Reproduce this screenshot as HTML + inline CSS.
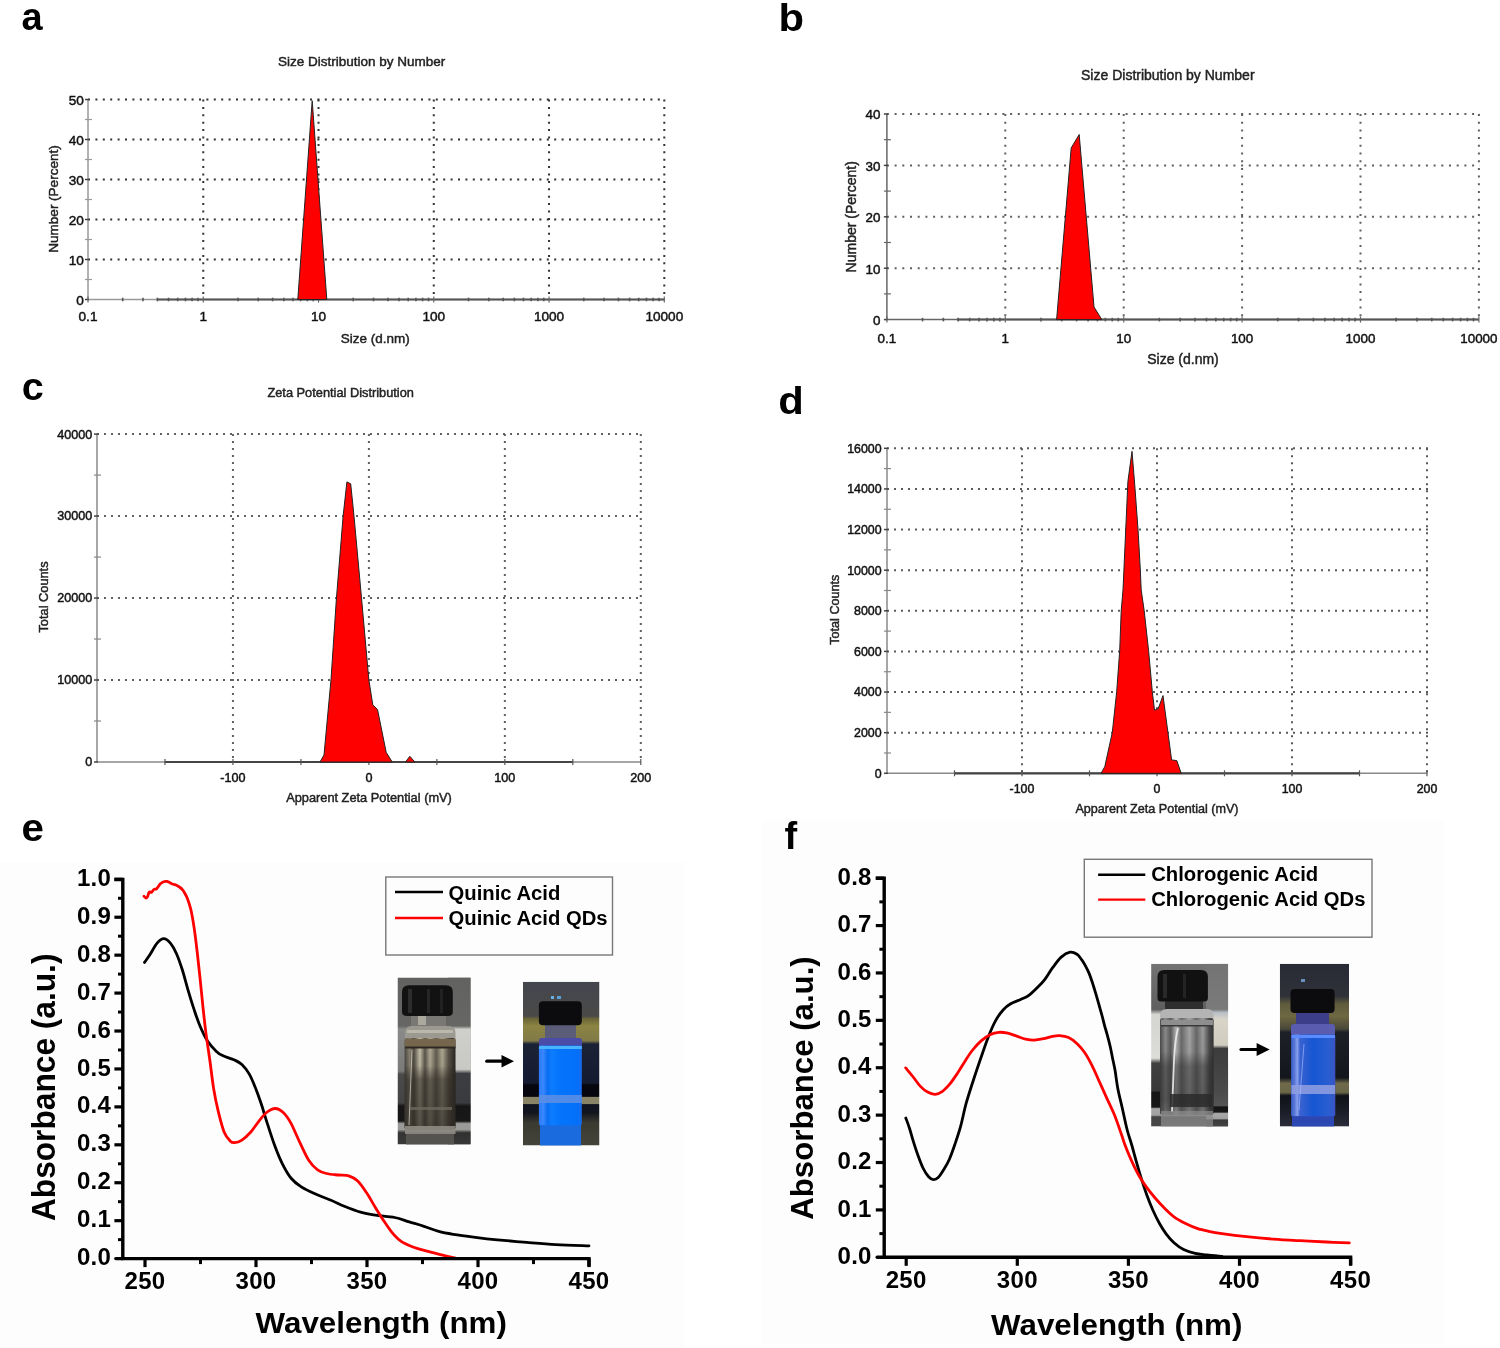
<!DOCTYPE html>
<html><head><meta charset="utf-8"><title>Figure</title>
<style>
html,body{margin:0;padding:0;background:#fff;}
body{width:1500px;height:1348px;overflow:hidden;}
svg{display:block;will-change:transform;}
text{font-family:"Liberation Sans", sans-serif;}
</style></head>
<body>
<svg width="1500" height="1348" viewBox="0 0 1500 1348" font-family='"Liberation Sans", sans-serif'>
<rect x="0" y="0" width="1500" height="1348" fill="#ffffff"/>
<rect x="0" y="862" width="684" height="486" fill="#fdfdfd"/>
<rect x="762" y="821" width="682" height="523" fill="#fdfdfd"/>
<text transform="translate(21.6,30.2) scale(1.0,1)" x="0" y="0" font-size="38" font-weight="bold" fill="#000">a</text>
<text transform="translate(778.5,30.6) scale(1.1,1)" x="0" y="0" font-size="38" font-weight="bold" fill="#000">b</text>
<text transform="translate(21.8,399.6) scale(1.04,1)" x="0" y="0" font-size="38" font-weight="bold" fill="#000">c</text>
<text transform="translate(778.2,414.2) scale(1.1,1)" x="0" y="0" font-size="38" font-weight="bold" fill="#000">d</text>
<text transform="translate(21.4,841.2) scale(1.06,1)" x="0" y="0" font-size="38" font-weight="bold" fill="#000">e</text>
<text transform="translate(784.4,848.7) scale(1.0,1)" x="0" y="0" font-size="38" font-weight="bold" fill="#000">f</text>
<line x1="88.00" y1="259.50" x2="665.30" y2="259.50" stroke="#333" stroke-width="2.0" stroke-dasharray="2.0 5.40"/>
<line x1="88.00" y1="219.50" x2="665.30" y2="219.50" stroke="#333" stroke-width="2.0" stroke-dasharray="2.0 5.40"/>
<line x1="88.00" y1="179.50" x2="665.30" y2="179.50" stroke="#333" stroke-width="2.0" stroke-dasharray="2.0 5.40"/>
<line x1="88.00" y1="139.50" x2="665.30" y2="139.50" stroke="#333" stroke-width="2.0" stroke-dasharray="2.0 5.40"/>
<line x1="88.00" y1="99.50" x2="665.30" y2="99.50" stroke="#333" stroke-width="2.0" stroke-dasharray="2.0 5.40"/>
<line x1="203.26" y1="99.50" x2="203.26" y2="299.50" stroke="#333" stroke-width="2.0" stroke-dasharray="2.0 5.40"/>
<line x1="318.52" y1="99.50" x2="318.52" y2="299.50" stroke="#333" stroke-width="2.0" stroke-dasharray="2.0 5.40"/>
<line x1="433.78" y1="99.50" x2="433.78" y2="299.50" stroke="#333" stroke-width="2.0" stroke-dasharray="2.0 5.40"/>
<line x1="549.04" y1="99.50" x2="549.04" y2="299.50" stroke="#333" stroke-width="2.0" stroke-dasharray="2.0 5.40"/>
<line x1="664.30" y1="99.50" x2="664.30" y2="299.50" stroke="#333" stroke-width="2.0" stroke-dasharray="2.0 5.40"/>
<line x1="88.00" y1="99.50" x2="88.00" y2="299.50" stroke="#999" stroke-width="1.5" />
<line x1="88.00" y1="299.50" x2="664.30" y2="299.50" stroke="#999" stroke-width="1.5" />
<line x1="85.00" y1="299.50" x2="89.00" y2="299.50" stroke="#444" stroke-width="1.5" />
<line x1="85.00" y1="259.50" x2="89.00" y2="259.50" stroke="#444" stroke-width="1.5" />
<line x1="85.00" y1="219.50" x2="89.00" y2="219.50" stroke="#444" stroke-width="1.5" />
<line x1="85.00" y1="179.50" x2="89.00" y2="179.50" stroke="#444" stroke-width="1.5" />
<line x1="85.00" y1="139.50" x2="89.00" y2="139.50" stroke="#444" stroke-width="1.5" />
<line x1="85.00" y1="99.50" x2="89.00" y2="99.50" stroke="#444" stroke-width="1.5" />
<line x1="85.00" y1="279.50" x2="92.00" y2="279.50" stroke="#999" stroke-width="1.2" />
<line x1="85.00" y1="239.50" x2="92.00" y2="239.50" stroke="#999" stroke-width="1.2" />
<line x1="85.00" y1="199.50" x2="92.00" y2="199.50" stroke="#999" stroke-width="1.2" />
<line x1="85.00" y1="159.50" x2="92.00" y2="159.50" stroke="#999" stroke-width="1.2" />
<line x1="85.00" y1="119.50" x2="92.00" y2="119.50" stroke="#999" stroke-width="1.2" />
<line x1="157.50" y1="299.50" x2="664.30" y2="299.50" stroke="#555" stroke-width="2" />
<line x1="122.70" y1="297.70" x2="122.70" y2="301.30" stroke="#555" stroke-width="1.6" />
<line x1="142.99" y1="297.70" x2="142.99" y2="301.30" stroke="#555" stroke-width="1.6" />
<line x1="157.39" y1="297.70" x2="157.39" y2="301.30" stroke="#555" stroke-width="1.6" />
<line x1="168.56" y1="297.70" x2="168.56" y2="301.30" stroke="#555" stroke-width="1.6" />
<line x1="177.69" y1="297.70" x2="177.69" y2="301.30" stroke="#555" stroke-width="1.6" />
<line x1="185.41" y1="297.70" x2="185.41" y2="301.30" stroke="#555" stroke-width="1.6" />
<line x1="192.09" y1="297.70" x2="192.09" y2="301.30" stroke="#555" stroke-width="1.6" />
<line x1="197.99" y1="297.70" x2="197.99" y2="301.30" stroke="#555" stroke-width="1.6" />
<line x1="237.96" y1="297.70" x2="237.96" y2="301.30" stroke="#555" stroke-width="1.6" />
<line x1="258.25" y1="297.70" x2="258.25" y2="301.30" stroke="#555" stroke-width="1.6" />
<line x1="272.65" y1="297.70" x2="272.65" y2="301.30" stroke="#555" stroke-width="1.6" />
<line x1="283.82" y1="297.70" x2="283.82" y2="301.30" stroke="#555" stroke-width="1.6" />
<line x1="292.95" y1="297.70" x2="292.95" y2="301.30" stroke="#555" stroke-width="1.6" />
<line x1="300.67" y1="297.70" x2="300.67" y2="301.30" stroke="#555" stroke-width="1.6" />
<line x1="307.35" y1="297.70" x2="307.35" y2="301.30" stroke="#555" stroke-width="1.6" />
<line x1="313.25" y1="297.70" x2="313.25" y2="301.30" stroke="#555" stroke-width="1.6" />
<line x1="353.22" y1="297.70" x2="353.22" y2="301.30" stroke="#555" stroke-width="1.6" />
<line x1="373.51" y1="297.70" x2="373.51" y2="301.30" stroke="#555" stroke-width="1.6" />
<line x1="387.91" y1="297.70" x2="387.91" y2="301.30" stroke="#555" stroke-width="1.6" />
<line x1="399.08" y1="297.70" x2="399.08" y2="301.30" stroke="#555" stroke-width="1.6" />
<line x1="408.21" y1="297.70" x2="408.21" y2="301.30" stroke="#555" stroke-width="1.6" />
<line x1="415.93" y1="297.70" x2="415.93" y2="301.30" stroke="#555" stroke-width="1.6" />
<line x1="422.61" y1="297.70" x2="422.61" y2="301.30" stroke="#555" stroke-width="1.6" />
<line x1="428.51" y1="297.70" x2="428.51" y2="301.30" stroke="#555" stroke-width="1.6" />
<line x1="468.48" y1="297.70" x2="468.48" y2="301.30" stroke="#555" stroke-width="1.6" />
<line x1="488.77" y1="297.70" x2="488.77" y2="301.30" stroke="#555" stroke-width="1.6" />
<line x1="503.17" y1="297.70" x2="503.17" y2="301.30" stroke="#555" stroke-width="1.6" />
<line x1="514.34" y1="297.70" x2="514.34" y2="301.30" stroke="#555" stroke-width="1.6" />
<line x1="523.47" y1="297.70" x2="523.47" y2="301.30" stroke="#555" stroke-width="1.6" />
<line x1="531.19" y1="297.70" x2="531.19" y2="301.30" stroke="#555" stroke-width="1.6" />
<line x1="537.87" y1="297.70" x2="537.87" y2="301.30" stroke="#555" stroke-width="1.6" />
<line x1="543.77" y1="297.70" x2="543.77" y2="301.30" stroke="#555" stroke-width="1.6" />
<line x1="583.74" y1="297.70" x2="583.74" y2="301.30" stroke="#555" stroke-width="1.6" />
<line x1="604.03" y1="297.70" x2="604.03" y2="301.30" stroke="#555" stroke-width="1.6" />
<line x1="618.43" y1="297.70" x2="618.43" y2="301.30" stroke="#555" stroke-width="1.6" />
<line x1="629.60" y1="297.70" x2="629.60" y2="301.30" stroke="#555" stroke-width="1.6" />
<line x1="638.73" y1="297.70" x2="638.73" y2="301.30" stroke="#555" stroke-width="1.6" />
<line x1="646.45" y1="297.70" x2="646.45" y2="301.30" stroke="#555" stroke-width="1.6" />
<line x1="653.13" y1="297.70" x2="653.13" y2="301.30" stroke="#555" stroke-width="1.6" />
<line x1="659.03" y1="297.70" x2="659.03" y2="301.30" stroke="#555" stroke-width="1.6" />
<line x1="88.00" y1="296.50" x2="88.00" y2="302.50" stroke="#666" stroke-width="1.2" />
<line x1="203.26" y1="296.50" x2="203.26" y2="302.50" stroke="#666" stroke-width="1.2" />
<line x1="318.52" y1="296.50" x2="318.52" y2="302.50" stroke="#666" stroke-width="1.2" />
<line x1="433.78" y1="296.50" x2="433.78" y2="302.50" stroke="#666" stroke-width="1.2" />
<line x1="549.04" y1="296.50" x2="549.04" y2="302.50" stroke="#666" stroke-width="1.2" />
<line x1="664.30" y1="296.50" x2="664.30" y2="302.50" stroke="#666" stroke-width="1.2" />
<polygon points="297.80,299.50 312.20,100.70 326.80,299.50" fill="#ff0000" stroke="#222" stroke-width="1" stroke-linejoin="round" />
<text x="83.80" y="304.94" font-size="13.6" text-anchor="end" font-weight="normal" fill="#111"  stroke="#111" stroke-width="0.45">0</text>
<text x="83.80" y="264.94" font-size="13.6" text-anchor="end" font-weight="normal" fill="#111"  stroke="#111" stroke-width="0.45">10</text>
<text x="83.80" y="224.94" font-size="13.6" text-anchor="end" font-weight="normal" fill="#111"  stroke="#111" stroke-width="0.45">20</text>
<text x="83.80" y="184.94" font-size="13.6" text-anchor="end" font-weight="normal" fill="#111"  stroke="#111" stroke-width="0.45">30</text>
<text x="83.80" y="144.94" font-size="13.6" text-anchor="end" font-weight="normal" fill="#111"  stroke="#111" stroke-width="0.45">40</text>
<text x="83.80" y="104.94" font-size="13.6" text-anchor="end" font-weight="normal" fill="#111"  stroke="#111" stroke-width="0.45">50</text>
<text x="88.00" y="321.40" font-size="13.6" text-anchor="middle" font-weight="normal" fill="#111"  stroke="#111" stroke-width="0.45">0.1</text>
<text x="203.26" y="321.40" font-size="13.6" text-anchor="middle" font-weight="normal" fill="#111"  stroke="#111" stroke-width="0.45">1</text>
<text x="318.52" y="321.40" font-size="13.6" text-anchor="middle" font-weight="normal" fill="#111"  stroke="#111" stroke-width="0.45">10</text>
<text x="433.78" y="321.40" font-size="13.6" text-anchor="middle" font-weight="normal" fill="#111"  stroke="#111" stroke-width="0.45">100</text>
<text x="549.04" y="321.40" font-size="13.6" text-anchor="middle" font-weight="normal" fill="#111"  stroke="#111" stroke-width="0.45">1000</text>
<text x="664.30" y="321.40" font-size="13.6" text-anchor="middle" font-weight="normal" fill="#111"  stroke="#111" stroke-width="0.45">10000</text>
<text x="361.70" y="66.20" font-size="13.5" text-anchor="middle" font-weight="normal" fill="#222"  stroke="#222" stroke-width="0.45">Size Distribution by Number</text>
<text x="375.30" y="342.50" font-size="13.5" text-anchor="middle" font-weight="normal" fill="#222"  stroke="#222" stroke-width="0.45">Size (d.nm)</text>
<text transform="translate(58.40,199.00) rotate(-90) scale(1,1.0)" x="0" y="0" font-size="13.5" text-anchor="middle" font-weight="normal" fill="#222" stroke="#222" stroke-width="0.45">Number (Percent)</text>
<line x1="886.90" y1="268.20" x2="1479.90" y2="268.20" stroke="#606060" stroke-width="2.0" stroke-dasharray="2.0 5.70"/>
<line x1="886.90" y1="216.80" x2="1479.90" y2="216.80" stroke="#606060" stroke-width="2.0" stroke-dasharray="2.0 5.70"/>
<line x1="886.90" y1="165.40" x2="1479.90" y2="165.40" stroke="#606060" stroke-width="2.0" stroke-dasharray="2.0 5.70"/>
<line x1="886.90" y1="114.00" x2="1479.90" y2="114.00" stroke="#606060" stroke-width="2.0" stroke-dasharray="2.0 5.70"/>
<line x1="1005.30" y1="114.00" x2="1005.30" y2="319.60" stroke="#606060" stroke-width="2.0" stroke-dasharray="2.0 5.70"/>
<line x1="1123.70" y1="114.00" x2="1123.70" y2="319.60" stroke="#606060" stroke-width="2.0" stroke-dasharray="2.0 5.70"/>
<line x1="1242.10" y1="114.00" x2="1242.10" y2="319.60" stroke="#606060" stroke-width="2.0" stroke-dasharray="2.0 5.70"/>
<line x1="1360.50" y1="114.00" x2="1360.50" y2="319.60" stroke="#606060" stroke-width="2.0" stroke-dasharray="2.0 5.70"/>
<line x1="1478.90" y1="114.00" x2="1478.90" y2="319.60" stroke="#606060" stroke-width="2.0" stroke-dasharray="2.0 5.70"/>
<line x1="886.90" y1="114.00" x2="886.90" y2="319.60" stroke="#666" stroke-width="1.5" />
<line x1="886.90" y1="319.60" x2="1478.90" y2="319.60" stroke="#666" stroke-width="1.5" />
<line x1="883.90" y1="319.60" x2="887.90" y2="319.60" stroke="#444" stroke-width="1.5" />
<line x1="883.90" y1="268.20" x2="887.90" y2="268.20" stroke="#444" stroke-width="1.5" />
<line x1="883.90" y1="216.80" x2="887.90" y2="216.80" stroke="#444" stroke-width="1.5" />
<line x1="883.90" y1="165.40" x2="887.90" y2="165.40" stroke="#444" stroke-width="1.5" />
<line x1="883.90" y1="114.00" x2="887.90" y2="114.00" stroke="#444" stroke-width="1.5" />
<line x1="883.90" y1="293.90" x2="890.90" y2="293.90" stroke="#666" stroke-width="1.2" />
<line x1="883.90" y1="242.50" x2="890.90" y2="242.50" stroke="#666" stroke-width="1.2" />
<line x1="883.90" y1="191.10" x2="890.90" y2="191.10" stroke="#666" stroke-width="1.2" />
<line x1="883.90" y1="139.70" x2="890.90" y2="139.70" stroke="#666" stroke-width="1.2" />
<line x1="957.00" y1="319.60" x2="1478.90" y2="319.60" stroke="#555" stroke-width="2" />
<line x1="922.54" y1="317.80" x2="922.54" y2="321.40" stroke="#555" stroke-width="1.6" />
<line x1="943.39" y1="317.80" x2="943.39" y2="321.40" stroke="#555" stroke-width="1.6" />
<line x1="958.18" y1="317.80" x2="958.18" y2="321.40" stroke="#555" stroke-width="1.6" />
<line x1="969.66" y1="317.80" x2="969.66" y2="321.40" stroke="#555" stroke-width="1.6" />
<line x1="979.03" y1="317.80" x2="979.03" y2="321.40" stroke="#555" stroke-width="1.6" />
<line x1="986.96" y1="317.80" x2="986.96" y2="321.40" stroke="#555" stroke-width="1.6" />
<line x1="993.83" y1="317.80" x2="993.83" y2="321.40" stroke="#555" stroke-width="1.6" />
<line x1="999.88" y1="317.80" x2="999.88" y2="321.40" stroke="#555" stroke-width="1.6" />
<line x1="1040.94" y1="317.80" x2="1040.94" y2="321.40" stroke="#555" stroke-width="1.6" />
<line x1="1061.79" y1="317.80" x2="1061.79" y2="321.40" stroke="#555" stroke-width="1.6" />
<line x1="1076.58" y1="317.80" x2="1076.58" y2="321.40" stroke="#555" stroke-width="1.6" />
<line x1="1088.06" y1="317.80" x2="1088.06" y2="321.40" stroke="#555" stroke-width="1.6" />
<line x1="1097.43" y1="317.80" x2="1097.43" y2="321.40" stroke="#555" stroke-width="1.6" />
<line x1="1105.36" y1="317.80" x2="1105.36" y2="321.40" stroke="#555" stroke-width="1.6" />
<line x1="1112.23" y1="317.80" x2="1112.23" y2="321.40" stroke="#555" stroke-width="1.6" />
<line x1="1118.28" y1="317.80" x2="1118.28" y2="321.40" stroke="#555" stroke-width="1.6" />
<line x1="1159.34" y1="317.80" x2="1159.34" y2="321.40" stroke="#555" stroke-width="1.6" />
<line x1="1180.19" y1="317.80" x2="1180.19" y2="321.40" stroke="#555" stroke-width="1.6" />
<line x1="1194.98" y1="317.80" x2="1194.98" y2="321.40" stroke="#555" stroke-width="1.6" />
<line x1="1206.46" y1="317.80" x2="1206.46" y2="321.40" stroke="#555" stroke-width="1.6" />
<line x1="1215.83" y1="317.80" x2="1215.83" y2="321.40" stroke="#555" stroke-width="1.6" />
<line x1="1223.76" y1="317.80" x2="1223.76" y2="321.40" stroke="#555" stroke-width="1.6" />
<line x1="1230.63" y1="317.80" x2="1230.63" y2="321.40" stroke="#555" stroke-width="1.6" />
<line x1="1236.68" y1="317.80" x2="1236.68" y2="321.40" stroke="#555" stroke-width="1.6" />
<line x1="1277.74" y1="317.80" x2="1277.74" y2="321.40" stroke="#555" stroke-width="1.6" />
<line x1="1298.59" y1="317.80" x2="1298.59" y2="321.40" stroke="#555" stroke-width="1.6" />
<line x1="1313.38" y1="317.80" x2="1313.38" y2="321.40" stroke="#555" stroke-width="1.6" />
<line x1="1324.86" y1="317.80" x2="1324.86" y2="321.40" stroke="#555" stroke-width="1.6" />
<line x1="1334.23" y1="317.80" x2="1334.23" y2="321.40" stroke="#555" stroke-width="1.6" />
<line x1="1342.16" y1="317.80" x2="1342.16" y2="321.40" stroke="#555" stroke-width="1.6" />
<line x1="1349.03" y1="317.80" x2="1349.03" y2="321.40" stroke="#555" stroke-width="1.6" />
<line x1="1355.08" y1="317.80" x2="1355.08" y2="321.40" stroke="#555" stroke-width="1.6" />
<line x1="1396.14" y1="317.80" x2="1396.14" y2="321.40" stroke="#555" stroke-width="1.6" />
<line x1="1416.99" y1="317.80" x2="1416.99" y2="321.40" stroke="#555" stroke-width="1.6" />
<line x1="1431.78" y1="317.80" x2="1431.78" y2="321.40" stroke="#555" stroke-width="1.6" />
<line x1="1443.26" y1="317.80" x2="1443.26" y2="321.40" stroke="#555" stroke-width="1.6" />
<line x1="1452.63" y1="317.80" x2="1452.63" y2="321.40" stroke="#555" stroke-width="1.6" />
<line x1="1460.56" y1="317.80" x2="1460.56" y2="321.40" stroke="#555" stroke-width="1.6" />
<line x1="1467.43" y1="317.80" x2="1467.43" y2="321.40" stroke="#555" stroke-width="1.6" />
<line x1="1473.48" y1="317.80" x2="1473.48" y2="321.40" stroke="#555" stroke-width="1.6" />
<line x1="886.90" y1="316.60" x2="886.90" y2="322.60" stroke="#666" stroke-width="1.2" />
<line x1="1005.30" y1="316.60" x2="1005.30" y2="322.60" stroke="#666" stroke-width="1.2" />
<line x1="1123.70" y1="316.60" x2="1123.70" y2="322.60" stroke="#666" stroke-width="1.2" />
<line x1="1242.10" y1="316.60" x2="1242.10" y2="322.60" stroke="#666" stroke-width="1.2" />
<line x1="1360.50" y1="316.60" x2="1360.50" y2="322.60" stroke="#666" stroke-width="1.2" />
<line x1="1478.90" y1="316.60" x2="1478.90" y2="322.60" stroke="#666" stroke-width="1.2" />
<polygon points="1056.60,319.60 1071.20,147.90 1079.20,134.50 1094.00,306.90 1101.80,319.60" fill="#ff0000" stroke="#222" stroke-width="1" stroke-linejoin="round" />
<text x="880.50" y="324.96" font-size="13.4" text-anchor="end" font-weight="normal" fill="#111"  stroke="#111" stroke-width="0.45">0</text>
<text x="880.50" y="273.56" font-size="13.4" text-anchor="end" font-weight="normal" fill="#111"  stroke="#111" stroke-width="0.45">10</text>
<text x="880.50" y="222.16" font-size="13.4" text-anchor="end" font-weight="normal" fill="#111"  stroke="#111" stroke-width="0.45">20</text>
<text x="880.50" y="170.76" font-size="13.4" text-anchor="end" font-weight="normal" fill="#111"  stroke="#111" stroke-width="0.45">30</text>
<text x="880.50" y="119.36" font-size="13.4" text-anchor="end" font-weight="normal" fill="#111"  stroke="#111" stroke-width="0.45">40</text>
<text x="886.90" y="342.50" font-size="13.4" text-anchor="middle" font-weight="normal" fill="#111"  stroke="#111" stroke-width="0.45">0.1</text>
<text x="1005.30" y="342.50" font-size="13.4" text-anchor="middle" font-weight="normal" fill="#111"  stroke="#111" stroke-width="0.45">1</text>
<text x="1123.70" y="342.50" font-size="13.4" text-anchor="middle" font-weight="normal" fill="#111"  stroke="#111" stroke-width="0.45">10</text>
<text x="1242.10" y="342.50" font-size="13.4" text-anchor="middle" font-weight="normal" fill="#111"  stroke="#111" stroke-width="0.45">100</text>
<text x="1360.50" y="342.50" font-size="13.4" text-anchor="middle" font-weight="normal" fill="#111"  stroke="#111" stroke-width="0.45">1000</text>
<text x="1478.90" y="342.50" font-size="13.4" text-anchor="middle" font-weight="normal" fill="#111"  stroke="#111" stroke-width="0.45">10000</text>
<text x="1167.80" y="79.60" font-size="14" text-anchor="middle" font-weight="normal" fill="#222"  stroke="#222" stroke-width="0.45">Size Distribution by Number</text>
<text x="1183.00" y="364.20" font-size="14" text-anchor="middle" font-weight="normal" fill="#222"  stroke="#222" stroke-width="0.45">Size (d.nm)</text>
<text transform="translate(856.30,216.80) rotate(-90) scale(1,1.0)" x="0" y="0" font-size="14" text-anchor="middle" font-weight="normal" fill="#222" stroke="#222" stroke-width="0.45">Number (Percent)</text>
<line x1="97.00" y1="680.02" x2="641.80" y2="680.02" stroke="#606060" stroke-width="2.0" stroke-dasharray="2.0 5.00"/>
<line x1="97.00" y1="598.05" x2="641.80" y2="598.05" stroke="#606060" stroke-width="2.0" stroke-dasharray="2.0 5.00"/>
<line x1="97.00" y1="516.08" x2="641.80" y2="516.08" stroke="#606060" stroke-width="2.0" stroke-dasharray="2.0 5.00"/>
<line x1="97.00" y1="434.10" x2="641.80" y2="434.10" stroke="#606060" stroke-width="2.0" stroke-dasharray="2.0 5.00"/>
<line x1="232.95" y1="434.10" x2="232.95" y2="762.00" stroke="#606060" stroke-width="2.0" stroke-dasharray="2.0 5.00"/>
<line x1="368.90" y1="434.10" x2="368.90" y2="762.00" stroke="#606060" stroke-width="2.0" stroke-dasharray="2.0 5.00"/>
<line x1="504.85" y1="434.10" x2="504.85" y2="762.00" stroke="#606060" stroke-width="2.0" stroke-dasharray="2.0 5.00"/>
<line x1="640.80" y1="434.10" x2="640.80" y2="762.00" stroke="#606060" stroke-width="2.0" stroke-dasharray="2.0 5.00"/>
<line x1="97.00" y1="434.10" x2="97.00" y2="762.00" stroke="#888" stroke-width="1.5" />
<line x1="97.00" y1="762.00" x2="640.80" y2="762.00" stroke="#888" stroke-width="1.5" />
<line x1="94.00" y1="762.00" x2="98.00" y2="762.00" stroke="#444" stroke-width="1.5" />
<line x1="94.00" y1="680.02" x2="98.00" y2="680.02" stroke="#444" stroke-width="1.5" />
<line x1="94.00" y1="598.05" x2="98.00" y2="598.05" stroke="#444" stroke-width="1.5" />
<line x1="94.00" y1="516.08" x2="98.00" y2="516.08" stroke="#444" stroke-width="1.5" />
<line x1="94.00" y1="434.10" x2="98.00" y2="434.10" stroke="#444" stroke-width="1.5" />
<line x1="94.00" y1="721.01" x2="101.00" y2="721.01" stroke="#888" stroke-width="1.2" />
<line x1="94.00" y1="639.04" x2="101.00" y2="639.04" stroke="#888" stroke-width="1.2" />
<line x1="94.00" y1="557.06" x2="101.00" y2="557.06" stroke="#888" stroke-width="1.2" />
<line x1="94.00" y1="475.09" x2="101.00" y2="475.09" stroke="#888" stroke-width="1.2" />
<line x1="164.97" y1="762.00" x2="572.83" y2="762.00" stroke="#444" stroke-width="2.2" />
<line x1="164.97" y1="759.00" x2="164.97" y2="765.00" stroke="#555" stroke-width="1.2" />
<line x1="232.95" y1="759.00" x2="232.95" y2="765.00" stroke="#555" stroke-width="1.2" />
<line x1="300.92" y1="759.00" x2="300.92" y2="765.00" stroke="#555" stroke-width="1.2" />
<line x1="368.90" y1="759.00" x2="368.90" y2="765.00" stroke="#555" stroke-width="1.2" />
<line x1="436.88" y1="759.00" x2="436.88" y2="765.00" stroke="#555" stroke-width="1.2" />
<line x1="504.85" y1="759.00" x2="504.85" y2="765.00" stroke="#555" stroke-width="1.2" />
<line x1="572.83" y1="759.00" x2="572.83" y2="765.00" stroke="#555" stroke-width="1.2" />
<line x1="640.80" y1="759.00" x2="640.80" y2="765.00" stroke="#555" stroke-width="1.2" />
<polygon points="320.00,762.00 324.00,755.00 331.00,679.50 336.30,600.00 343.10,516.20 346.90,481.90 350.70,483.80 354.00,516.20 361.70,600.00 368.80,679.50 372.80,704.90 377.50,709.50 386.20,752.30 392.20,762.00" fill="#ff0000" stroke="#222" stroke-width="1" stroke-linejoin="round" />
<polygon points="405.50,762.00 409.80,756.30 414.90,762.00" fill="#ff0000" stroke="#222" stroke-width="1" stroke-linejoin="round" />
<text x="92.30" y="766.41" font-size="12.6" text-anchor="end" font-weight="normal" fill="#111"  stroke="#111" stroke-width="0.45">0</text>
<text x="92.30" y="684.43" font-size="12.6" text-anchor="end" font-weight="normal" fill="#111"  stroke="#111" stroke-width="0.45">10000</text>
<text x="92.30" y="602.46" font-size="12.6" text-anchor="end" font-weight="normal" fill="#111"  stroke="#111" stroke-width="0.45">20000</text>
<text x="92.30" y="520.49" font-size="12.6" text-anchor="end" font-weight="normal" fill="#111"  stroke="#111" stroke-width="0.45">30000</text>
<text x="92.30" y="438.51" font-size="12.6" text-anchor="end" font-weight="normal" fill="#111"  stroke="#111" stroke-width="0.45">40000</text>
<text x="232.95" y="782.40" font-size="12.6" text-anchor="middle" font-weight="normal" fill="#111"  stroke="#111" stroke-width="0.45">-100</text>
<text x="368.90" y="782.40" font-size="12.6" text-anchor="middle" font-weight="normal" fill="#111"  stroke="#111" stroke-width="0.45">0</text>
<text x="504.85" y="782.40" font-size="12.6" text-anchor="middle" font-weight="normal" fill="#111"  stroke="#111" stroke-width="0.45">100</text>
<text x="640.80" y="782.40" font-size="12.6" text-anchor="middle" font-weight="normal" fill="#111"  stroke="#111" stroke-width="0.45">200</text>
<text x="340.70" y="397.30" font-size="12.8" text-anchor="middle" font-weight="normal" fill="#222"  stroke="#222" stroke-width="0.45">Zeta Potential Distribution</text>
<text x="369.00" y="802.20" font-size="12.8" text-anchor="middle" font-weight="normal" fill="#222"  stroke="#222" stroke-width="0.45">Apparent Zeta Potential (mV)</text>
<text transform="translate(48.40,597.00) rotate(-90) scale(1,1.0)" x="0" y="0" font-size="12.8" text-anchor="middle" font-weight="normal" fill="#222" stroke="#222" stroke-width="0.45">Total Counts</text>
<line x1="887.00" y1="732.67" x2="1428.00" y2="732.67" stroke="#5a5a5a" stroke-width="2.0" stroke-dasharray="2.0 5.00"/>
<line x1="887.00" y1="692.05" x2="1428.00" y2="692.05" stroke="#5a5a5a" stroke-width="2.0" stroke-dasharray="2.0 5.00"/>
<line x1="887.00" y1="651.42" x2="1428.00" y2="651.42" stroke="#5a5a5a" stroke-width="2.0" stroke-dasharray="2.0 5.00"/>
<line x1="887.00" y1="610.80" x2="1428.00" y2="610.80" stroke="#5a5a5a" stroke-width="2.0" stroke-dasharray="2.0 5.00"/>
<line x1="887.00" y1="570.17" x2="1428.00" y2="570.17" stroke="#5a5a5a" stroke-width="2.0" stroke-dasharray="2.0 5.00"/>
<line x1="887.00" y1="529.55" x2="1428.00" y2="529.55" stroke="#5a5a5a" stroke-width="2.0" stroke-dasharray="2.0 5.00"/>
<line x1="887.00" y1="488.93" x2="1428.00" y2="488.93" stroke="#5a5a5a" stroke-width="2.0" stroke-dasharray="2.0 5.00"/>
<line x1="887.00" y1="448.30" x2="1428.00" y2="448.30" stroke="#5a5a5a" stroke-width="2.0" stroke-dasharray="2.0 5.00"/>
<line x1="1022.00" y1="448.30" x2="1022.00" y2="773.30" stroke="#5a5a5a" stroke-width="2.0" stroke-dasharray="2.0 5.00"/>
<line x1="1157.00" y1="448.30" x2="1157.00" y2="773.30" stroke="#5a5a5a" stroke-width="2.0" stroke-dasharray="2.0 5.00"/>
<line x1="1292.00" y1="448.30" x2="1292.00" y2="773.30" stroke="#5a5a5a" stroke-width="2.0" stroke-dasharray="2.0 5.00"/>
<line x1="1427.00" y1="448.30" x2="1427.00" y2="773.30" stroke="#5a5a5a" stroke-width="2.0" stroke-dasharray="2.0 5.00"/>
<line x1="887.00" y1="448.30" x2="887.00" y2="773.30" stroke="#888" stroke-width="1.5" />
<line x1="887.00" y1="773.30" x2="1427.00" y2="773.30" stroke="#888" stroke-width="1.5" />
<line x1="884.00" y1="773.30" x2="888.00" y2="773.30" stroke="#444" stroke-width="1.5" />
<line x1="884.00" y1="732.67" x2="888.00" y2="732.67" stroke="#444" stroke-width="1.5" />
<line x1="884.00" y1="692.05" x2="888.00" y2="692.05" stroke="#444" stroke-width="1.5" />
<line x1="884.00" y1="651.42" x2="888.00" y2="651.42" stroke="#444" stroke-width="1.5" />
<line x1="884.00" y1="610.80" x2="888.00" y2="610.80" stroke="#444" stroke-width="1.5" />
<line x1="884.00" y1="570.17" x2="888.00" y2="570.17" stroke="#444" stroke-width="1.5" />
<line x1="884.00" y1="529.55" x2="888.00" y2="529.55" stroke="#444" stroke-width="1.5" />
<line x1="884.00" y1="488.93" x2="888.00" y2="488.93" stroke="#444" stroke-width="1.5" />
<line x1="884.00" y1="448.30" x2="888.00" y2="448.30" stroke="#444" stroke-width="1.5" />
<line x1="884.00" y1="752.99" x2="891.00" y2="752.99" stroke="#888" stroke-width="1.2" />
<line x1="884.00" y1="712.36" x2="891.00" y2="712.36" stroke="#888" stroke-width="1.2" />
<line x1="884.00" y1="671.74" x2="891.00" y2="671.74" stroke="#888" stroke-width="1.2" />
<line x1="884.00" y1="631.11" x2="891.00" y2="631.11" stroke="#888" stroke-width="1.2" />
<line x1="884.00" y1="590.49" x2="891.00" y2="590.49" stroke="#888" stroke-width="1.2" />
<line x1="884.00" y1="549.86" x2="891.00" y2="549.86" stroke="#888" stroke-width="1.2" />
<line x1="884.00" y1="509.24" x2="891.00" y2="509.24" stroke="#888" stroke-width="1.2" />
<line x1="884.00" y1="468.61" x2="891.00" y2="468.61" stroke="#888" stroke-width="1.2" />
<line x1="954.50" y1="773.30" x2="1359.50" y2="773.30" stroke="#444" stroke-width="2.2" />
<line x1="954.50" y1="770.30" x2="954.50" y2="776.30" stroke="#555" stroke-width="1.2" />
<line x1="1022.00" y1="770.30" x2="1022.00" y2="776.30" stroke="#555" stroke-width="1.2" />
<line x1="1089.50" y1="770.30" x2="1089.50" y2="776.30" stroke="#555" stroke-width="1.2" />
<line x1="1157.00" y1="770.30" x2="1157.00" y2="776.30" stroke="#555" stroke-width="1.2" />
<line x1="1224.50" y1="770.30" x2="1224.50" y2="776.30" stroke="#555" stroke-width="1.2" />
<line x1="1292.00" y1="770.30" x2="1292.00" y2="776.30" stroke="#555" stroke-width="1.2" />
<line x1="1359.50" y1="770.30" x2="1359.50" y2="776.30" stroke="#555" stroke-width="1.2" />
<line x1="1427.00" y1="770.30" x2="1427.00" y2="776.30" stroke="#555" stroke-width="1.2" />
<polygon points="1101.10,773.30 1104.80,766.60 1112.30,732.40 1116.70,691.60 1119.70,650.80 1121.20,610.80 1123.00,590.00 1127.90,481.50 1132.00,451.30 1135.00,488.30 1138.00,529.30 1140.30,569.50 1141.20,590.00 1144.20,610.80 1148.60,650.80 1152.30,691.60 1154.50,710.20 1158.20,708.70 1163.00,695.60 1171.60,759.90 1176.80,760.60 1181.20,773.30" fill="#ff0000" stroke="#222" stroke-width="1" stroke-linejoin="round" />
<text x="881.60" y="777.64" font-size="12.4" text-anchor="end" font-weight="normal" fill="#111"  stroke="#111" stroke-width="0.45">0</text>
<text x="881.60" y="737.01" font-size="12.4" text-anchor="end" font-weight="normal" fill="#111"  stroke="#111" stroke-width="0.45">2000</text>
<text x="881.60" y="696.39" font-size="12.4" text-anchor="end" font-weight="normal" fill="#111"  stroke="#111" stroke-width="0.45">4000</text>
<text x="881.60" y="655.76" font-size="12.4" text-anchor="end" font-weight="normal" fill="#111"  stroke="#111" stroke-width="0.45">6000</text>
<text x="881.60" y="615.14" font-size="12.4" text-anchor="end" font-weight="normal" fill="#111"  stroke="#111" stroke-width="0.45">8000</text>
<text x="881.60" y="574.51" font-size="12.4" text-anchor="end" font-weight="normal" fill="#111"  stroke="#111" stroke-width="0.45">10000</text>
<text x="881.60" y="533.89" font-size="12.4" text-anchor="end" font-weight="normal" fill="#111"  stroke="#111" stroke-width="0.45">12000</text>
<text x="881.60" y="493.26" font-size="12.4" text-anchor="end" font-weight="normal" fill="#111"  stroke="#111" stroke-width="0.45">14000</text>
<text x="881.60" y="452.64" font-size="12.4" text-anchor="end" font-weight="normal" fill="#111"  stroke="#111" stroke-width="0.45">16000</text>
<text x="1022.00" y="793.00" font-size="12.4" text-anchor="middle" font-weight="normal" fill="#111"  stroke="#111" stroke-width="0.45">-100</text>
<text x="1157.00" y="793.00" font-size="12.4" text-anchor="middle" font-weight="normal" fill="#111"  stroke="#111" stroke-width="0.45">0</text>
<text x="1292.00" y="793.00" font-size="12.4" text-anchor="middle" font-weight="normal" fill="#111"  stroke="#111" stroke-width="0.45">100</text>
<text x="1427.00" y="793.00" font-size="12.4" text-anchor="middle" font-weight="normal" fill="#111"  stroke="#111" stroke-width="0.45">200</text>
<text x="1157.00" y="813.40" font-size="12.6" text-anchor="middle" font-weight="normal" fill="#222"  stroke="#222" stroke-width="0.45">Apparent Zeta Potential (mV)</text>
<text transform="translate(838.90,609.70) rotate(-90) scale(1,1.0)" x="0" y="0" font-size="12.6" text-anchor="middle" font-weight="normal" fill="#222" stroke="#222" stroke-width="0.45">Total Counts</text>
<path d="M144.50,962.40 C145.37,961.17 147.60,958.22 149.70,955.00 C151.80,951.78 154.75,945.83 157.10,943.10 C159.45,940.37 161.58,938.60 163.80,938.60 C166.02,938.60 168.30,940.62 170.40,943.10 C172.50,945.58 174.42,949.05 176.40,953.50 C178.38,957.95 180.33,963.62 182.30,969.80 C184.27,975.98 186.22,983.92 188.20,990.60 C190.18,997.28 192.22,1003.97 194.20,1009.90 C196.18,1015.83 197.88,1021.02 200.10,1026.20 C202.32,1031.38 204.78,1036.80 207.50,1041.00 C210.22,1045.20 213.88,1048.97 216.40,1051.40 C218.92,1053.83 219.58,1054.17 222.60,1055.60 C225.62,1057.03 231.28,1058.52 234.50,1060.00 C237.72,1061.48 239.43,1062.15 241.90,1064.50 C244.37,1066.85 247.07,1070.27 249.30,1074.10 C251.53,1077.93 253.32,1082.55 255.30,1087.50 C257.28,1092.45 259.22,1097.87 261.20,1103.80 C263.18,1109.73 264.97,1116.18 267.20,1123.10 C269.43,1130.02 272.13,1138.63 274.60,1145.30 C277.07,1151.97 279.28,1157.65 282.00,1163.10 C284.72,1168.55 287.68,1174.03 290.90,1178.00 C294.12,1181.97 297.10,1184.18 301.30,1186.90 C305.50,1189.62 311.15,1192.08 316.10,1194.30 C321.05,1196.52 326.30,1198.22 331.00,1200.20 C335.70,1202.18 339.37,1204.22 344.30,1206.20 C349.23,1208.18 355.40,1210.62 360.60,1212.10 C365.80,1213.58 369.82,1214.20 375.50,1215.10 C381.18,1216.00 389.07,1216.37 394.70,1217.50 C400.33,1218.63 404.42,1220.43 409.30,1221.90 C414.18,1223.37 419.10,1224.72 424.00,1226.30 C428.90,1227.88 433.82,1230.07 438.70,1231.40 C443.58,1232.73 447.20,1233.32 453.30,1234.30 C459.40,1235.28 467.97,1236.38 475.30,1237.30 C482.63,1238.22 488.73,1238.95 497.30,1239.80 C505.87,1240.65 516.92,1241.60 526.70,1242.40 C536.48,1243.20 545.62,1244.03 556.00,1244.60 C566.38,1245.17 583.50,1245.60 589.00,1245.80" fill="none" stroke="#000" stroke-width="2.8" stroke-linejoin="round" stroke-linecap="round"/>
<path d="M144.00,896.20 C144.33,896.50 145.40,897.93 146.00,898.00 C146.60,898.07 147.07,897.57 147.60,896.60 C148.13,895.63 148.53,892.93 149.20,892.20 C149.87,891.47 150.80,892.68 151.60,892.20 C152.40,891.72 153.20,889.83 154.00,889.30 C154.80,888.77 155.67,889.48 156.40,889.00 C157.13,888.52 157.73,887.28 158.40,886.40 C159.07,885.52 159.53,884.48 160.40,883.70 C161.27,882.92 162.53,882.08 163.60,881.70 C164.67,881.32 165.73,881.22 166.80,881.40 C167.87,881.58 168.93,882.32 170.00,882.80 C171.07,883.28 172.13,883.90 173.20,884.30 C174.27,884.70 175.33,884.72 176.40,885.20 C177.47,885.68 178.60,886.47 179.60,887.20 C180.60,887.93 181.53,888.60 182.40,889.60 C183.27,890.60 184.00,891.80 184.80,893.20 C185.60,894.60 186.40,896.00 187.20,898.00 C188.00,900.00 188.88,902.78 189.60,905.20 C190.32,907.62 190.73,908.67 191.50,912.50 C192.27,916.33 193.25,921.62 194.20,928.20 C195.15,934.78 196.22,943.58 197.20,952.00 C198.18,960.42 199.12,969.30 200.10,978.70 C201.08,988.10 202.12,999.25 203.10,1008.40 C204.08,1017.55 204.88,1025.00 206.00,1033.60 C207.12,1042.20 208.52,1050.77 209.80,1060.00 C211.08,1069.23 212.30,1080.47 213.70,1089.00 C215.10,1097.53 216.47,1104.03 218.20,1111.20 C219.93,1118.37 222.12,1127.05 224.10,1132.00 C226.08,1136.95 228.37,1139.12 230.10,1140.90 C231.83,1142.68 232.53,1142.83 234.50,1142.70 C236.47,1142.57 239.18,1141.88 241.90,1140.10 C244.62,1138.32 247.83,1135.33 250.80,1132.00 C253.77,1128.67 256.97,1123.43 259.70,1120.10 C262.43,1116.77 264.60,1113.93 267.20,1112.00 C269.80,1110.07 272.58,1108.38 275.30,1108.50 C278.02,1108.62 280.90,1110.27 283.50,1112.70 C286.10,1115.13 288.18,1118.15 290.90,1123.10 C293.62,1128.05 296.83,1136.22 299.80,1142.40 C302.77,1148.58 305.73,1155.63 308.70,1160.20 C311.67,1164.77 314.63,1167.58 317.60,1169.80 C320.57,1172.02 323.03,1172.63 326.50,1173.50 C329.97,1174.37 334.68,1174.62 338.40,1175.00 C342.12,1175.38 345.58,1174.80 348.80,1175.80 C352.02,1176.80 354.73,1178.17 357.70,1181.00 C360.67,1183.83 363.63,1188.35 366.60,1192.80 C369.57,1197.25 372.78,1203.25 375.50,1207.70 C378.22,1212.15 380.20,1215.43 382.90,1219.50 C385.60,1223.57 388.77,1228.53 391.70,1232.10 C394.63,1235.67 397.07,1238.45 400.50,1240.90 C403.93,1243.35 407.90,1245.08 412.30,1246.80 C416.70,1248.52 422.02,1249.85 426.90,1251.20 C431.78,1252.55 436.83,1253.73 441.60,1254.90 C446.37,1256.07 453.18,1257.65 455.50,1258.20" fill="none" stroke="#ff0000" stroke-width="2.8" stroke-linejoin="round" stroke-linecap="round"/>
<path d="M114.40,879.50 L122.80,879.50 L122.80,1258.60 L589.00,1258.60 L589.00,1266.60" fill="none" stroke="#000" stroke-width="3.4" stroke-linejoin="miter"/>
<line x1="115.80" y1="1258.60" x2="122.80" y2="1258.60" stroke="#000" stroke-width="3.4" stroke-linecap="round"/>
<line x1="118.00" y1="1239.63" x2="122.80" y2="1239.63" stroke="#000" stroke-width="3.0" />
<text transform="translate(111.00,1265.20) scale(1.045,1)" x="0" y="0" font-size="23" text-anchor="end" font-weight="bold" fill="#000" letter-spacing="0.2">0.0</text>
<line x1="114.40" y1="1220.67" x2="122.80" y2="1220.67" stroke="#000" stroke-width="3.2" />
<line x1="118.00" y1="1201.70" x2="122.80" y2="1201.70" stroke="#000" stroke-width="3.0" />
<text transform="translate(111.00,1227.27) scale(1.045,1)" x="0" y="0" font-size="23" text-anchor="end" font-weight="bold" fill="#000" letter-spacing="0.2">0.1</text>
<line x1="114.40" y1="1182.74" x2="122.80" y2="1182.74" stroke="#000" stroke-width="3.2" />
<line x1="118.00" y1="1163.78" x2="122.80" y2="1163.78" stroke="#000" stroke-width="3.0" />
<text transform="translate(111.00,1189.34) scale(1.045,1)" x="0" y="0" font-size="23" text-anchor="end" font-weight="bold" fill="#000" letter-spacing="0.2">0.2</text>
<line x1="114.40" y1="1144.81" x2="122.80" y2="1144.81" stroke="#000" stroke-width="3.2" />
<line x1="118.00" y1="1125.85" x2="122.80" y2="1125.85" stroke="#000" stroke-width="3.0" />
<text transform="translate(111.00,1151.41) scale(1.045,1)" x="0" y="0" font-size="23" text-anchor="end" font-weight="bold" fill="#000" letter-spacing="0.2">0.3</text>
<line x1="114.40" y1="1106.88" x2="122.80" y2="1106.88" stroke="#000" stroke-width="3.2" />
<line x1="118.00" y1="1087.91" x2="122.80" y2="1087.91" stroke="#000" stroke-width="3.0" />
<text transform="translate(111.00,1113.48) scale(1.045,1)" x="0" y="0" font-size="23" text-anchor="end" font-weight="bold" fill="#000" letter-spacing="0.2">0.4</text>
<line x1="114.40" y1="1068.95" x2="122.80" y2="1068.95" stroke="#000" stroke-width="3.2" />
<line x1="118.00" y1="1049.98" x2="122.80" y2="1049.98" stroke="#000" stroke-width="3.0" />
<text transform="translate(111.00,1075.55) scale(1.045,1)" x="0" y="0" font-size="23" text-anchor="end" font-weight="bold" fill="#000" letter-spacing="0.2">0.5</text>
<line x1="114.40" y1="1031.02" x2="122.80" y2="1031.02" stroke="#000" stroke-width="3.2" />
<line x1="118.00" y1="1012.05" x2="122.80" y2="1012.05" stroke="#000" stroke-width="3.0" />
<text transform="translate(111.00,1037.62) scale(1.045,1)" x="0" y="0" font-size="23" text-anchor="end" font-weight="bold" fill="#000" letter-spacing="0.2">0.6</text>
<line x1="114.40" y1="993.09" x2="122.80" y2="993.09" stroke="#000" stroke-width="3.2" />
<line x1="118.00" y1="974.12" x2="122.80" y2="974.12" stroke="#000" stroke-width="3.0" />
<text transform="translate(111.00,999.69) scale(1.045,1)" x="0" y="0" font-size="23" text-anchor="end" font-weight="bold" fill="#000" letter-spacing="0.2">0.7</text>
<line x1="114.40" y1="955.16" x2="122.80" y2="955.16" stroke="#000" stroke-width="3.2" />
<line x1="118.00" y1="936.19" x2="122.80" y2="936.19" stroke="#000" stroke-width="3.0" />
<text transform="translate(111.00,961.76) scale(1.045,1)" x="0" y="0" font-size="23" text-anchor="end" font-weight="bold" fill="#000" letter-spacing="0.2">0.8</text>
<line x1="114.40" y1="917.23" x2="122.80" y2="917.23" stroke="#000" stroke-width="3.2" />
<line x1="118.00" y1="898.26" x2="122.80" y2="898.26" stroke="#000" stroke-width="3.0" />
<text transform="translate(111.00,923.83) scale(1.045,1)" x="0" y="0" font-size="23" text-anchor="end" font-weight="bold" fill="#000" letter-spacing="0.2">0.9</text>
<line x1="114.40" y1="879.30" x2="122.80" y2="879.30" stroke="#000" stroke-width="3.2" />
<text transform="translate(111.00,885.90) scale(1.045,1)" x="0" y="0" font-size="23" text-anchor="end" font-weight="bold" fill="#000" letter-spacing="0.2">1.0</text>
<line x1="145.00" y1="1258.60" x2="145.00" y2="1267.10" stroke="#000" stroke-width="3.2" />
<text transform="translate(145.00,1289.40) scale(1.045,1)" x="0" y="0" font-size="23" text-anchor="middle" font-weight="bold" fill="#000" letter-spacing="0.3">250</text>
<line x1="200.50" y1="1258.60" x2="200.50" y2="1264.10" stroke="#000" stroke-width="3.0" />
<line x1="256.00" y1="1258.60" x2="256.00" y2="1267.10" stroke="#000" stroke-width="3.2" />
<text transform="translate(256.00,1289.40) scale(1.045,1)" x="0" y="0" font-size="23" text-anchor="middle" font-weight="bold" fill="#000" letter-spacing="0.3">300</text>
<line x1="311.50" y1="1258.60" x2="311.50" y2="1264.10" stroke="#000" stroke-width="3.0" />
<line x1="367.00" y1="1258.60" x2="367.00" y2="1267.10" stroke="#000" stroke-width="3.2" />
<text transform="translate(367.00,1289.40) scale(1.045,1)" x="0" y="0" font-size="23" text-anchor="middle" font-weight="bold" fill="#000" letter-spacing="0.3">350</text>
<line x1="422.50" y1="1258.60" x2="422.50" y2="1264.10" stroke="#000" stroke-width="3.0" />
<line x1="478.00" y1="1258.60" x2="478.00" y2="1267.10" stroke="#000" stroke-width="3.2" />
<text transform="translate(478.00,1289.40) scale(1.045,1)" x="0" y="0" font-size="23" text-anchor="middle" font-weight="bold" fill="#000" letter-spacing="0.3">400</text>
<line x1="533.50" y1="1258.60" x2="533.50" y2="1264.10" stroke="#000" stroke-width="3.0" />
<line x1="589.00" y1="1258.60" x2="589.00" y2="1267.10" stroke="#000" stroke-width="3.2" />
<text transform="translate(589.00,1289.40) scale(1.045,1)" x="0" y="0" font-size="23" text-anchor="middle" font-weight="bold" fill="#000" letter-spacing="0.3">450</text>
<rect x="385.80" y="877.00" width="226.70" height="78.00" fill="none" stroke="#777" stroke-width="1.4"/>
<line x1="395.00" y1="892.00" x2="443.00" y2="892.00" stroke="#000" stroke-width="2.4" />
<line x1="395.00" y1="918.00" x2="443.00" y2="918.00" stroke="#ff0000" stroke-width="2.4" />
<text transform="translate(448.50,899.50) scale(1.045,1)" x="0" y="0" font-size="19.4" text-anchor="start" font-weight="bold" fill="#000" >Quinic Acid</text>
<text transform="translate(448.50,925.30) scale(1.045,1)" x="0" y="0" font-size="19.4" text-anchor="start" font-weight="bold" fill="#000" >Quinic Acid QDs</text>
<clipPath id="cel"><rect x="397.5" y="977.5" width="73.19999999999999" height="167.0"/></clipPath>
<defs><linearGradient id="el_bgL" x1="0" y1="0" x2="0" y2="1"><stop offset="0" stop-color="#626260"/><stop offset="0.29" stop-color="#666664"/><stop offset="0.31" stop-color="#8a8a88"/><stop offset="0.56" stop-color="#7a7a78"/><stop offset="0.58" stop-color="#4a4a4a"/><stop offset="0.75" stop-color="#444"/><stop offset="0.77" stop-color="#161616"/><stop offset="0.86" stop-color="#181818"/><stop offset="0.875" stop-color="#9a9a98"/><stop offset="0.91" stop-color="#9a9a98"/><stop offset="0.93" stop-color="#343434"/><stop offset="1" stop-color="#3a3a3a"/></linearGradient><linearGradient id="el_bgR" x1="0" y1="0" x2="0" y2="1"><stop offset="0" stop-color="#626260"/><stop offset="0.29" stop-color="#666664"/><stop offset="0.31" stop-color="#cfcfcb"/><stop offset="0.55" stop-color="#c8c8c4"/><stop offset="0.575" stop-color="#3c3d40"/><stop offset="0.75" stop-color="#3a3b3e"/><stop offset="0.77" stop-color="#161616"/><stop offset="0.86" stop-color="#181818"/><stop offset="0.875" stop-color="#9a9a98"/><stop offset="0.91" stop-color="#9a9a98"/><stop offset="0.93" stop-color="#303030"/><stop offset="1" stop-color="#383838"/></linearGradient><linearGradient id="el_lq" x1="0" y1="0" x2="1" y2="0"><stop offset="0" stop-color="#4a463e"/><stop offset="0.1" stop-color="#8a8474"/><stop offset="0.18" stop-color="#4e4a40"/><stop offset="0.3" stop-color="#c8c2ac"/><stop offset="0.4" stop-color="#5a554a"/><stop offset="0.5" stop-color="#b4ae98"/><stop offset="0.62" stop-color="#625c50"/><stop offset="0.74" stop-color="#b0aa94"/><stop offset="0.86" stop-color="#5a554a"/><stop offset="0.95" stop-color="#3a362e"/><stop offset="1" stop-color="#2a2822"/></linearGradient><linearGradient id="el_dk" x1="0" y1="0" x2="0" y2="1"><stop offset="0" stop-color="#1e1c18" stop-opacity="0"/><stop offset="0.3" stop-color="#1e1c18" stop-opacity="0.08"/><stop offset="0.45" stop-color="#2a2620" stop-opacity="0.6"/><stop offset="1" stop-color="#2a2620" stop-opacity="0.72"/></linearGradient></defs>
<g clip-path="url(#cel)">
<rect x="397.5" y="977.5" width="73.19999999999999" height="167.0" fill="url(#el_bgL)"/>
<rect x="448" y="977.5" width="22.69999999999999" height="167.0" fill="url(#el_bgR)"/>
<rect x="411" y="1014" width="35" height="13" fill="#7a7874"/>
<rect x="418" y="1016" width="8" height="9" fill="#b8b4a8" opacity="0.8"/>
<path d="M405,1040 L405,1033 Q405,1026 412,1026 L448,1026 Q455.5,1026 455.5,1033 L455.5,1040 Z" fill="#9c9990"/>
<rect x="407" y="1030" width="46" height="3" fill="#c8c4b8" opacity="0.7"/>
<rect x="404.6" y="1038" width="50.9" height="92" rx="3" fill="url(#el_lq)"/>
<rect x="404.6" y="1038" width="50.9" height="92" rx="3" fill="url(#el_dk)"/>
<line x1="412" y1="1050" x2="409" y2="1125" stroke="#d8d4c8" stroke-width="1" opacity="0.7"/>
<rect x="405" y="1039" width="50.5" height="8" fill="#76664e"/>
<rect x="405" y="1046.5" width="50.5" height="2" fill="#2e2a22"/>
<rect x="410" y="1107" width="42" height="3" fill="#6a665c" opacity="0.8"/>
<rect x="405" y="1126" width="50.5" height="8" fill="#8e8c84" opacity="0.9"/>
<rect x="406" y="1134" width="48" height="11" fill="#5a5854" opacity="0.85"/>
<path d="M402,1012 L402,992 Q402,985.3 409,985.3 L446,985.3 Q452.8,985.3 452.8,992 L452.8,1012 Q452.8,1016 448,1016 L407,1016 Q402,1016 402,1012 Z" fill="#121212"/>
<rect x="408" y="989" width="4" height="24" fill="#2c2c2c"/>
<rect x="427" y="989" width="3" height="24" fill="#262626"/>
<rect x="440" y="989" width="3" height="24" fill="#222"/>
</g>
<clipPath id="cer"><rect x="523" y="981.8" width="76.5" height="163.70000000000005"/></clipPath>
<defs><linearGradient id="er_bg" x1="0" y1="0" x2="0" y2="1"><stop offset="0" stop-color="#44464e"/><stop offset="0.21" stop-color="#4a4a48"/><stop offset="0.225" stop-color="#6a6438"/><stop offset="0.27" stop-color="#8c8442"/><stop offset="0.36" stop-color="#807a48"/><stop offset="0.38" stop-color="#1c2236"/><stop offset="0.62" stop-color="#141a30"/><stop offset="0.63" stop-color="#06070e"/><stop offset="0.70" stop-color="#06070e"/><stop offset="0.705" stop-color="#8a8466"/><stop offset="0.745" stop-color="#8a8466"/><stop offset="0.75" stop-color="#101420"/><stop offset="0.8" stop-color="#14161e"/><stop offset="0.86" stop-color="#3a3a30"/><stop offset="1" stop-color="#44443a"/></linearGradient><linearGradient id="er_lq" x1="0" y1="0" x2="1" y2="0"><stop offset="0" stop-color="#2a78f4"/><stop offset="0.1" stop-color="#3a88ff"/><stop offset="0.2" stop-color="#0a6ef0"/><stop offset="0.3" stop-color="#0c7cff"/><stop offset="0.5" stop-color="#0474fc"/><stop offset="0.9" stop-color="#0470fa"/><stop offset="1" stop-color="#1a6ae8"/></linearGradient></defs>
<g clip-path="url(#cer)">
<rect x="523" y="981.8" width="76.5" height="163.70000000000005" fill="url(#er_bg)"/>
<rect x="545" y="1024" width="31" height="18" fill="#5a5c78"/>
<rect x="539" y="1038" width="43" height="10" rx="3" fill="#4a4ca8"/>
<rect x="538.9" y="1045.5" width="42.9" height="80" rx="2" fill="url(#er_lq)"/>
<rect x="539" y="1046" width="42.8" height="3" fill="#48b4ff"/>
<rect x="539" y="1095" width="42.8" height="8" fill="#5a8ee6" opacity="0.9"/>
<rect x="540" y="1125" width="41" height="21" fill="#1670f0" opacity="0.9"/>
<rect x="538.9" y="1001.3" width="42.9" height="24" rx="4" fill="#0c0c0e"/>
<rect x="551" y="996" width="3" height="3" fill="#6ab0e0"/>
<rect x="557" y="996" width="4" height="3" fill="#5aa0d8"/>
</g>
<line x1="486.80" y1="1061.20" x2="502.50" y2="1061.20" stroke="#000" stroke-width="3.2" stroke-linecap="round"/>
<polygon points="501.50,1054.95 514.00,1061.20 501.50,1067.45" fill="#000"/>
<text transform="translate(381.20,1332.50) scale(1.045,1)" x="0" y="0" font-size="30" text-anchor="middle" font-weight="bold" fill="#000" >Wavelength (nm)</text>
<text transform="translate(55.00,1087.30) rotate(-90) scale(1,1.03)" x="0" y="0" font-size="31.7" text-anchor="middle" font-weight="bold" fill="#000">Absorbance (a.u.)</text>
<path d="M905.80,1118.00 C906.40,1119.67 908.13,1124.07 909.40,1128.00 C910.67,1131.93 911.93,1136.93 913.40,1141.60 C914.87,1146.27 916.60,1151.60 918.20,1156.00 C919.80,1160.40 921.27,1164.53 923.00,1168.00 C924.73,1171.47 926.87,1174.87 928.60,1176.80 C930.33,1178.73 931.80,1179.47 933.40,1179.60 C935.00,1179.73 936.47,1179.27 938.20,1177.60 C939.93,1175.93 941.93,1172.67 943.80,1169.60 C945.67,1166.53 947.53,1163.47 949.40,1159.20 C951.27,1154.93 953.13,1149.47 955.00,1144.00 C956.87,1138.53 958.73,1133.20 960.60,1126.40 C962.47,1119.60 964.03,1111.02 966.20,1103.20 C968.37,1095.38 971.12,1087.17 973.60,1079.50 C976.08,1071.83 978.62,1064.38 981.10,1057.20 C983.58,1050.02 986.03,1042.58 988.50,1036.40 C990.97,1030.22 993.43,1024.55 995.90,1020.10 C998.37,1015.65 1000.83,1012.42 1003.30,1009.70 C1005.77,1006.98 1007.73,1005.53 1010.70,1003.80 C1013.67,1002.07 1018.13,1000.67 1021.10,999.30 C1024.07,997.93 1025.78,997.57 1028.50,995.60 C1031.22,993.63 1034.67,990.22 1037.40,987.50 C1040.13,984.78 1042.42,982.52 1044.90,979.30 C1047.38,976.08 1049.58,971.90 1052.30,968.20 C1055.02,964.50 1058.25,959.77 1061.20,957.10 C1064.15,954.43 1067.37,952.67 1070.00,952.20 C1072.63,951.73 1075.07,953.07 1077.00,954.30 C1078.93,955.53 1080.28,957.83 1081.60,959.60 C1082.92,961.37 1083.67,962.65 1084.90,964.90 C1086.13,967.15 1087.78,970.25 1089.00,973.10 C1090.22,975.95 1091.12,978.73 1092.20,982.00 C1093.28,985.27 1094.40,989.02 1095.50,992.70 C1096.60,996.38 1097.72,1000.30 1098.80,1004.10 C1099.88,1007.90 1101.05,1011.97 1102.00,1015.50 C1102.95,1019.03 1103.62,1022.03 1104.50,1025.30 C1105.38,1028.57 1106.35,1031.57 1107.30,1035.10 C1108.25,1038.63 1109.33,1042.68 1110.20,1046.50 C1111.07,1050.32 1111.70,1054.08 1112.50,1058.00 C1113.30,1061.92 1114.12,1064.93 1115.00,1070.00 C1115.88,1075.07 1116.60,1082.12 1117.80,1088.40 C1119.00,1094.68 1120.63,1100.77 1122.20,1107.70 C1123.77,1114.63 1125.63,1123.87 1127.20,1130.00 C1128.77,1136.13 1130.07,1139.20 1131.60,1144.50 C1133.13,1149.80 1134.80,1156.18 1136.40,1161.80 C1138.00,1167.42 1139.43,1172.57 1141.20,1178.20 C1142.97,1183.83 1145.07,1190.30 1147.00,1195.60 C1148.93,1200.90 1150.72,1205.35 1152.80,1210.00 C1154.88,1214.65 1157.25,1219.48 1159.50,1223.50 C1161.75,1227.52 1163.88,1230.88 1166.30,1234.10 C1168.72,1237.32 1171.12,1240.22 1174.00,1242.80 C1176.88,1245.38 1180.07,1247.83 1183.60,1249.60 C1187.13,1251.37 1191.33,1252.52 1195.20,1253.40 C1199.07,1254.28 1202.33,1254.40 1206.80,1254.90 C1211.27,1255.40 1219.47,1256.15 1222.00,1256.40" fill="none" stroke="#000" stroke-width="2.8" stroke-linejoin="round" stroke-linecap="round"/>
<path d="M905.70,1067.90 C906.88,1069.33 910.38,1073.47 912.80,1076.50 C915.22,1079.53 917.73,1083.50 920.20,1086.10 C922.67,1088.70 925.12,1090.73 927.60,1092.10 C930.08,1093.47 932.62,1094.43 935.10,1094.30 C937.58,1094.17 940.03,1093.03 942.50,1091.30 C944.97,1089.57 947.43,1086.87 949.90,1083.90 C952.37,1080.93 954.83,1077.20 957.30,1073.50 C959.77,1069.80 962.22,1065.53 964.70,1061.70 C967.18,1057.87 969.47,1053.97 972.20,1050.50 C974.93,1047.03 978.13,1043.53 981.10,1040.90 C984.07,1038.27 987.03,1036.13 990.00,1034.70 C992.97,1033.27 995.93,1032.55 998.90,1032.30 C1001.87,1032.05 1004.83,1032.57 1007.80,1033.20 C1010.77,1033.83 1013.73,1035.12 1016.70,1036.10 C1019.67,1037.08 1022.63,1038.43 1025.60,1039.10 C1028.57,1039.77 1031.53,1040.17 1034.50,1040.10 C1037.47,1040.03 1040.43,1039.32 1043.40,1038.70 C1046.37,1038.08 1049.58,1036.90 1052.30,1036.40 C1055.02,1035.90 1056.98,1035.50 1059.70,1035.70 C1062.42,1035.90 1065.65,1036.23 1068.60,1037.60 C1071.55,1038.97 1074.70,1041.37 1077.40,1043.90 C1080.10,1046.43 1082.32,1049.10 1084.80,1052.80 C1087.28,1056.50 1089.82,1061.17 1092.30,1066.10 C1094.78,1071.03 1097.23,1076.95 1099.70,1082.40 C1102.17,1087.85 1104.63,1093.35 1107.10,1098.80 C1109.57,1104.25 1112.03,1108.93 1114.50,1115.10 C1116.97,1121.27 1120.18,1130.90 1121.90,1135.80 C1123.62,1140.70 1123.18,1140.32 1124.80,1144.50 C1126.42,1148.68 1129.18,1155.60 1131.60,1160.90 C1134.02,1166.20 1136.73,1171.80 1139.30,1176.30 C1141.87,1180.80 1144.43,1184.37 1147.00,1187.90 C1149.57,1191.43 1151.97,1194.30 1154.70,1197.50 C1157.43,1200.70 1160.18,1203.88 1163.40,1207.10 C1166.62,1210.32 1170.30,1214.07 1174.00,1216.80 C1177.70,1219.53 1181.75,1221.57 1185.60,1223.50 C1189.45,1225.43 1193.25,1227.10 1197.10,1228.40 C1200.95,1229.70 1204.55,1230.43 1208.70,1231.30 C1212.85,1232.17 1215.67,1232.70 1222.00,1233.60 C1228.33,1234.50 1238.15,1235.78 1246.70,1236.70 C1255.25,1237.62 1264.42,1238.43 1273.30,1239.10 C1282.18,1239.77 1291.10,1240.22 1300.00,1240.70 C1308.90,1241.18 1318.48,1241.63 1326.70,1242.00 C1334.92,1242.37 1345.53,1242.75 1349.30,1242.90" fill="none" stroke="#ff0000" stroke-width="2.8" stroke-linejoin="round" stroke-linecap="round"/>
<path d="M875.80,878.20 L884.20,878.20 L884.20,1257.30 L1350.60,1257.30 L1350.60,1265.30" fill="none" stroke="#000" stroke-width="3.4" stroke-linejoin="miter"/>
<line x1="877.20" y1="1257.30" x2="884.20" y2="1257.30" stroke="#000" stroke-width="3.4" stroke-linecap="round"/>
<line x1="879.40" y1="1233.61" x2="884.20" y2="1233.61" stroke="#000" stroke-width="3.0" />
<text transform="translate(871.60,1263.90) scale(1.045,1)" x="0" y="0" font-size="23" text-anchor="end" font-weight="bold" fill="#000" letter-spacing="0.2">0.0</text>
<line x1="875.80" y1="1209.91" x2="884.20" y2="1209.91" stroke="#000" stroke-width="3.2" />
<line x1="879.40" y1="1186.21" x2="884.20" y2="1186.21" stroke="#000" stroke-width="3.0" />
<text transform="translate(871.60,1216.51) scale(1.045,1)" x="0" y="0" font-size="23" text-anchor="end" font-weight="bold" fill="#000" letter-spacing="0.2">0.1</text>
<line x1="875.80" y1="1162.52" x2="884.20" y2="1162.52" stroke="#000" stroke-width="3.2" />
<line x1="879.40" y1="1138.83" x2="884.20" y2="1138.83" stroke="#000" stroke-width="3.0" />
<text transform="translate(871.60,1169.12) scale(1.045,1)" x="0" y="0" font-size="23" text-anchor="end" font-weight="bold" fill="#000" letter-spacing="0.2">0.2</text>
<line x1="875.80" y1="1115.13" x2="884.20" y2="1115.13" stroke="#000" stroke-width="3.2" />
<line x1="879.40" y1="1091.43" x2="884.20" y2="1091.43" stroke="#000" stroke-width="3.0" />
<text transform="translate(871.60,1121.73) scale(1.045,1)" x="0" y="0" font-size="23" text-anchor="end" font-weight="bold" fill="#000" letter-spacing="0.2">0.3</text>
<line x1="875.80" y1="1067.74" x2="884.20" y2="1067.74" stroke="#000" stroke-width="3.2" />
<line x1="879.40" y1="1044.05" x2="884.20" y2="1044.05" stroke="#000" stroke-width="3.0" />
<text transform="translate(871.60,1074.34) scale(1.045,1)" x="0" y="0" font-size="23" text-anchor="end" font-weight="bold" fill="#000" letter-spacing="0.2">0.4</text>
<line x1="875.80" y1="1020.35" x2="884.20" y2="1020.35" stroke="#000" stroke-width="3.2" />
<line x1="879.40" y1="996.65" x2="884.20" y2="996.65" stroke="#000" stroke-width="3.0" />
<text transform="translate(871.60,1026.95) scale(1.045,1)" x="0" y="0" font-size="23" text-anchor="end" font-weight="bold" fill="#000" letter-spacing="0.2">0.5</text>
<line x1="875.80" y1="972.96" x2="884.20" y2="972.96" stroke="#000" stroke-width="3.2" />
<line x1="879.40" y1="949.26" x2="884.20" y2="949.26" stroke="#000" stroke-width="3.0" />
<text transform="translate(871.60,979.56) scale(1.045,1)" x="0" y="0" font-size="23" text-anchor="end" font-weight="bold" fill="#000" letter-spacing="0.2">0.6</text>
<line x1="875.80" y1="925.57" x2="884.20" y2="925.57" stroke="#000" stroke-width="3.2" />
<line x1="879.40" y1="901.87" x2="884.20" y2="901.87" stroke="#000" stroke-width="3.0" />
<text transform="translate(871.60,932.17) scale(1.045,1)" x="0" y="0" font-size="23" text-anchor="end" font-weight="bold" fill="#000" letter-spacing="0.2">0.7</text>
<line x1="875.80" y1="878.18" x2="884.20" y2="878.18" stroke="#000" stroke-width="3.2" />
<text transform="translate(871.60,884.78) scale(1.045,1)" x="0" y="0" font-size="23" text-anchor="end" font-weight="bold" fill="#000" letter-spacing="0.2">0.8</text>
<line x1="906.20" y1="1257.30" x2="906.20" y2="1265.80" stroke="#000" stroke-width="3.2" />
<text transform="translate(906.20,1288.10) scale(1.045,1)" x="0" y="0" font-size="23" text-anchor="middle" font-weight="bold" fill="#000" letter-spacing="0.3">250</text>
<line x1="1017.30" y1="1257.30" x2="1017.30" y2="1265.80" stroke="#000" stroke-width="3.2" />
<text transform="translate(1017.30,1288.10) scale(1.045,1)" x="0" y="0" font-size="23" text-anchor="middle" font-weight="bold" fill="#000" letter-spacing="0.3">300</text>
<line x1="1128.40" y1="1257.30" x2="1128.40" y2="1265.80" stroke="#000" stroke-width="3.2" />
<text transform="translate(1128.40,1288.10) scale(1.045,1)" x="0" y="0" font-size="23" text-anchor="middle" font-weight="bold" fill="#000" letter-spacing="0.3">350</text>
<line x1="1239.50" y1="1257.30" x2="1239.50" y2="1265.80" stroke="#000" stroke-width="3.2" />
<text transform="translate(1239.50,1288.10) scale(1.045,1)" x="0" y="0" font-size="23" text-anchor="middle" font-weight="bold" fill="#000" letter-spacing="0.3">400</text>
<line x1="1350.60" y1="1257.30" x2="1350.60" y2="1265.80" stroke="#000" stroke-width="3.2" />
<text transform="translate(1350.60,1288.10) scale(1.045,1)" x="0" y="0" font-size="23" text-anchor="middle" font-weight="bold" fill="#000" letter-spacing="0.3">450</text>
<rect x="1084.30" y="859.30" width="287.70" height="77.90" fill="none" stroke="#777" stroke-width="1.4"/>
<line x1="1098.10" y1="874.80" x2="1145.30" y2="874.80" stroke="#000" stroke-width="2.4" />
<line x1="1098.10" y1="899.60" x2="1145.30" y2="899.60" stroke="#ff0000" stroke-width="2.4" />
<text transform="translate(1151.20,881.40) scale(1.045,1)" x="0" y="0" font-size="19.4" text-anchor="start" font-weight="bold" fill="#000" >Chlorogenic Acid</text>
<text transform="translate(1151.20,906.20) scale(1.045,1)" x="0" y="0" font-size="19.4" text-anchor="start" font-weight="bold" fill="#000" >Chlorogenic Acid QDs</text>
<clipPath id="cfl"><rect x="1151.1" y="963.8" width="77.10000000000014" height="162.79999999999995"/></clipPath>
<defs><linearGradient id="fl_bgL" x1="0" y1="0" x2="0" y2="1"><stop offset="0" stop-color="#747474"/><stop offset="0.28" stop-color="#5e5e5e"/><stop offset="0.31" stop-color="#d4d4d0"/><stop offset="0.58" stop-color="#dcdcd8"/><stop offset="0.61" stop-color="#404040"/><stop offset="0.78" stop-color="#383838"/><stop offset="0.79" stop-color="#151515"/><stop offset="0.88" stop-color="#171717"/><stop offset="0.89" stop-color="#a8a8a8"/><stop offset="0.93" stop-color="#a0a0a0"/><stop offset="0.94" stop-color="#444"/><stop offset="1" stop-color="#484848"/></linearGradient><linearGradient id="fl_bgR" x1="0" y1="0" x2="0" y2="1"><stop offset="0" stop-color="#747474"/><stop offset="0.28" stop-color="#7a7a7a"/><stop offset="0.3" stop-color="#b8c0c8"/><stop offset="0.34" stop-color="#d8d4c8"/><stop offset="0.5" stop-color="#d0ccc0"/><stop offset="0.52" stop-color="#3c3c3c"/><stop offset="0.78" stop-color="#4a4a4a"/><stop offset="0.87" stop-color="#555"/><stop offset="0.88" stop-color="#151515"/><stop offset="0.91" stop-color="#171717"/><stop offset="0.92" stop-color="#aaa"/><stop offset="0.95" stop-color="#a0a0a0"/><stop offset="0.96" stop-color="#3a3a3a"/><stop offset="1" stop-color="#444"/></linearGradient><linearGradient id="fl_lq" x1="0" y1="0" x2="1" y2="0"><stop offset="0" stop-color="#4a4a4a"/><stop offset="0.1" stop-color="#8a8a8a"/><stop offset="0.2" stop-color="#5a5a5a"/><stop offset="0.3" stop-color="#b4b4b4"/><stop offset="0.4" stop-color="#6a6a6a"/><stop offset="0.55" stop-color="#a4a4a4"/><stop offset="0.68" stop-color="#686868"/><stop offset="0.8" stop-color="#9c9c9c"/><stop offset="0.92" stop-color="#4a4a4a"/><stop offset="1" stop-color="#333"/></linearGradient><linearGradient id="fl_dk" x1="0" y1="0" x2="0" y2="1"><stop offset="0" stop-color="#222" stop-opacity="0"/><stop offset="0.35" stop-color="#222" stop-opacity="0.05"/><stop offset="0.5" stop-color="#2a2a2a" stop-opacity="0.5"/><stop offset="0.85" stop-color="#2a2a2a" stop-opacity="0.55"/><stop offset="1" stop-color="#2a2a2a" stop-opacity="0.3"/></linearGradient></defs>
<g clip-path="url(#cfl)">
<rect x="1151.1" y="963.8" width="77.10000000000014" height="162.79999999999995" fill="url(#fl_bgL)"/>
<rect x="1206" y="963.8" width="22.200000000000045" height="162.79999999999995" fill="url(#fl_bgR)"/>
<rect x="1165" y="1000" width="38" height="11" fill="#2e2e2e"/>
<path d="M1160,1022 L1160,1016 Q1160,1009 1167,1009 L1207,1009 Q1213.6,1009 1213.6,1016 L1213.6,1022 Z" fill="#b4b4b4"/>
<rect x="1160" y="1018" width="53.6" height="97" rx="3" fill="url(#fl_lq)"/>
<rect x="1160" y="1018" width="53.6" height="97" rx="3" fill="url(#fl_dk)"/>
<rect x="1161" y="1020" width="52" height="6" fill="#8e8e8e"/>
<rect x="1161" y="1025" width="52" height="1.5" fill="#3a3a3a"/>
<path d="M1178,1028 Q1175,1040 1174,1060 L1172,1112" fill="none" stroke="#ececec" stroke-width="1.8" opacity="0.9"/>
<rect x="1170" y="1094" width="42" height="13" fill="#2a2a2a" opacity="0.85"/>
<rect x="1161" y="1111" width="52" height="16" fill="#8a8a8a" opacity="0.75"/>
<path d="M1157.5,998 L1157.5,977 Q1157.5,970.1 1164,970.1 L1201,970.1 Q1207.9,970.1 1207.9,977 L1207.9,998 Q1207.9,1001.6 1204,1001.6 L1161,1001.6 Q1157.5,1001.6 1157.5,998 Z" fill="#111"/>
<rect x="1163" y="974" width="4" height="24" fill="#2a2a2a"/>
<rect x="1183" y="974" width="3" height="24" fill="#242424"/>
</g>
<clipPath id="cfr"><rect x="1279.8" y="963.8" width="69.20000000000005" height="162.79999999999995"/></clipPath>
<defs><linearGradient id="fr_bg" x1="0" y1="0" x2="0" y2="1"><stop offset="0" stop-color="#282a34"/><stop offset="0.2" stop-color="#30323a"/><stop offset="0.245" stop-color="#5e5a3c"/><stop offset="0.32" stop-color="#6e6842"/><stop offset="0.4" stop-color="#4a4838"/><stop offset="0.42" stop-color="#1e2028"/><stop offset="0.7" stop-color="#14161e"/><stop offset="0.735" stop-color="#6e6a4a"/><stop offset="0.79" stop-color="#6a6648"/><stop offset="0.81" stop-color="#101218"/><stop offset="0.9" stop-color="#1a1c26"/><stop offset="1" stop-color="#2a2c3a"/></linearGradient><linearGradient id="fr_lq" x1="0" y1="0" x2="1" y2="0"><stop offset="0" stop-color="#3a5ec8"/><stop offset="0.08" stop-color="#5a78d8"/><stop offset="0.14" stop-color="#8aa0ec"/><stop offset="0.2" stop-color="#3a62d0"/><stop offset="0.5" stop-color="#1656d2"/><stop offset="0.85" stop-color="#2a5ed0"/><stop offset="1" stop-color="#3a54c4"/></linearGradient></defs>
<g clip-path="url(#cfr)">
<rect x="1279.8" y="963.8" width="69.20000000000005" height="162.79999999999995" fill="url(#fr_bg)"/>
<rect x="1296" y="1012" width="33" height="16" fill="#3c3e8a"/>
<rect x="1291" y="1024" width="44" height="12" rx="3" fill="#5a5cb0"/>
<rect x="1291.1" y="1034.4" width="44.2" height="82" rx="2" fill="url(#fr_lq)"/>
<rect x="1291.5" y="1035" width="43.5" height="3" fill="#5a8cff"/>
<rect x="1291.5" y="1085" width="43.5" height="9" fill="#8c9ce0" opacity="0.9"/>
<rect x="1292" y="1116" width="42" height="11" fill="#2e4ec8" opacity="0.85"/>
<line x1="1304" y1="1044" x2="1299" y2="1110" stroke="#a0b4ff" stroke-width="1" opacity="0.7"/>
<rect x="1290.5" y="989" width="44.1" height="24" rx="4" fill="#0c0c0e"/>
<rect x="1301" y="979" width="4" height="3" fill="#6a90c0"/>
</g>
<line x1="1241.00" y1="1049.50" x2="1257.60" y2="1049.50" stroke="#000" stroke-width="3.2" stroke-linecap="round"/>
<polygon points="1256.60,1043.00 1269.60,1049.50 1256.60,1056.00" fill="#000"/>
<text transform="translate(1116.70,1335.40) scale(1.045,1)" x="0" y="0" font-size="30" text-anchor="middle" font-weight="bold" fill="#000" >Wavelength (nm)</text>
<text transform="translate(813.20,1088.00) rotate(-90) scale(1,1.03)" x="0" y="0" font-size="31.2" text-anchor="middle" font-weight="bold" fill="#000">Absorbance (a.u.)</text>
</svg>
</body></html>
